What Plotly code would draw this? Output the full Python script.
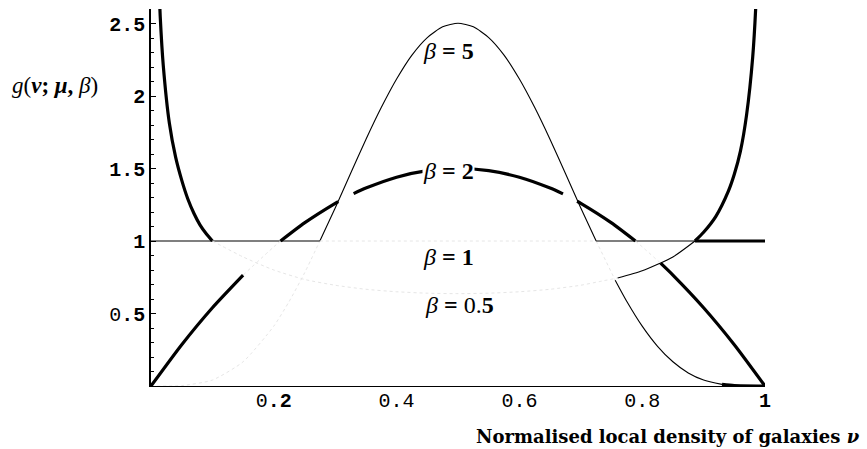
import plotly.graph_objects as go

# Density g(nu; mu, beta) for mu = 0.5 and four values of beta
nu_b05 = [0.005, 0.01, 0.015, 0.02, 0.03, 0.04, 0.05, 0.06, 0.07, 0.08, 0.09, 0.10,
          0.15, 0.2, 0.25, 0.3, 0.35, 0.4, 0.45, 0.5, 0.55, 0.6, 0.65, 0.7, 0.73,
          0.76, 0.8, 0.85, 0.886, 0.9, 0.92, 0.94, 0.95, 0.96, 0.97, 0.98, 0.985,
          0.99, 0.995]
g_b05 = [4.40, 3.10, 2.55, 2.21, 1.81, 1.58, 1.42, 1.29, 1.19, 1.11, 1.05, 1.00,
         0.89, 0.80, 0.735, 0.695, 0.667, 0.65, 0.64, 0.637, 0.64, 0.65, 0.667, 0.695, 0.72,
         0.745, 0.795, 0.89, 1.00, 1.06, 1.17, 1.34, 1.46, 1.62, 1.87, 2.27, 2.62,
         3.20, 4.51]

nu_b1 = [0.0, 0.275, 0.725, 0.886, 1.0]
g_b1 = [1.0, 1.0, 1.0, 1.0, 1.0]

nu_b2 = [0.0, 0.05, 0.1, 0.15, 0.2, 0.211, 0.25, 0.3, 0.305, 0.33, 0.35, 0.4, 0.45,
         0.5, 0.55, 0.6, 0.65, 0.671, 0.694, 0.7, 0.75, 0.789, 0.8, 0.83, 0.85,
         0.9, 0.95, 1.0]
g_b2 = [0.0, 0.285, 0.54, 0.765, 0.96, 1.0, 1.125, 1.26, 1.272, 1.327, 1.365, 1.44, 1.485,
        1.5, 1.485, 1.44, 1.365, 1.325, 1.274, 1.26, 1.125, 1.0, 0.96, 0.847, 0.765,
        0.54, 0.285, 0.0]

nu_b5 = [0.0, 0.05, 0.1, 0.15, 0.2, 0.225, 0.25, 0.275, 0.3, 0.325, 0.35, 0.375, 0.4,
         0.425, 0.45, 0.475, 0.5, 0.525, 0.55, 0.575, 0.6, 0.625, 0.65, 0.675, 0.7,
         0.725, 0.756, 0.775, 0.8, 0.825, 0.85, 0.875, 0.9, 0.93, 0.95, 1.0]
g_b5 = [0.0, 0.003, 0.041, 0.167, 0.413, 0.583, 0.779, 1.0, 1.228, 1.466, 1.700, 1.920, 2.117,
        2.282, 2.403, 2.477, 2.502, 2.477, 2.403, 2.282, 2.117, 1.920, 1.700, 1.466, 1.228,
        1.0, 0.73, 0.583, 0.413, 0.274, 0.167, 0.090, 0.041, 0.011, 0.003, 0.0]

x_ticks = [0.2, 0.4, 0.6, 0.8, 1.0]
x_tick_text = ["0<b>.2</b>", "0.4", "0.6", "0.8", "<b>1</b>"]
y_ticks = [0.5, 1.0, 1.5, 2.0, 2.5]
y_tick_text = ["0<b>.5</b>", "<b>1</b>", "<b>1.5</b>", "<b>2</b>", "<b>2.5</b>"]

# Line styles used along each curve
STYLES = {
    "thick": dict(color="black", width=3.2),
    "thin": dict(color="black", width=1.1),
    "faint": dict(color="#e6e6e6", width=1, dash="dot"),
}

# (start, end, style) pieces of each curve
pieces_b05 = [(0.0, 0.10, "thick"), (0.10, 0.76, "faint"), (0.76, 0.886, "thin"), (0.886, 1.0, "thick")]
pieces_b1 = [(0.0, 0.275, "thin"), (0.275, 0.725, "faint"), (0.725, 0.886, "thin"), (0.886, 1.0, "thick")]
pieces_b2 = [(0.0, 0.15, "thick"), (0.15, 0.211, "faint"), (0.211, 0.305, "thick"),
             (0.33, 0.671, "thick"), (0.694, 0.789, "thick"), (0.789, 0.83, "faint"),
             (0.83, 1.0, "thick")]
pieces_b5 = [(0.0, 0.275, "faint"), (0.275, 0.725, "thin"), (0.725, 0.756, "faint"),
             (0.756, 0.93, "thin"), (0.93, 1.0, "thick")]

fig = go.Figure()


def add_curve(nu, g, pieces):
    for lo, hi, style in pieces:
        xs = [a for a, b in zip(nu, g) if lo - 1e-9 <= a <= hi + 1e-9]
        ys = [b for a, b in zip(nu, g) if lo - 1e-9 <= a <= hi + 1e-9]
        fig.add_trace(go.Scatter(
            x=xs, y=ys, mode="lines", line=dict(shape="spline", smoothing=0.6, **STYLES[style]),
            showlegend=False, hoverinfo="skip"))


add_curve(nu_b5, g_b5, pieces_b5)
add_curve(nu_b1, g_b1, pieces_b1)
add_curve(nu_b05, g_b05, pieces_b05)
add_curve(nu_b2, g_b2, pieces_b2)

label_font = dict(family="Liberation Serif", size=24, color="black")
labels = [
    (0.485, 2.31, "<i>β</i> <b>= 5</b>", None),
    (0.485, 1.48, "<i>β</i> <b>= 2</b>", "white"),
    (0.485, 0.89, "<i>β</i> <b>= 1</b>", None),
    (0.503, 0.56, "<i>β</i> <b>=</b> 0.<b>5</b>", None),
]
for lx, ly, txt, bg in labels:
    fig.add_annotation(x=lx, y=ly, text=txt, showarrow=False, font=label_font,
                       xanchor="center", yanchor="middle",
                       bgcolor=bg if bg else "rgba(0,0,0,0)", borderpad=0)

fig.add_annotation(xref="paper", yref="paper", x=-0.156, y=0.798,
                   text="<i>g</i>(<b><i>ν</i></b><b>;</b> <b><i>μ</i></b><b>,</b> <i>β</i>)",
                   showarrow=False, xanchor="center", yanchor="middle",
                   font=dict(family="Liberation Serif", size=23, color="black"))
fig.add_annotation(xref="paper", yref="paper", x=1.158, y=-0.135,
                   text="<b>Normalised local density of galaxies <i>ν</i></b>",
                   showarrow=False, xanchor="right", yanchor="middle",
                   font=dict(family="DejaVu Serif", size=18, color="black"))

tick_font = dict(family="Liberation Mono", size=20, color="black")
fig.update_layout(
    width=867, height=449,
    margin=dict(l=151, r=102, t=9, b=63),
    paper_bgcolor="white", plot_bgcolor="white",
    xaxis=dict(range=[0, 1], showline=True, linecolor="black", linewidth=1.3,
               showgrid=False, zeroline=False, tickvals=x_ticks, ticktext=x_tick_text,
               ticks="", tickfont=tick_font, ticklabelstandoff=-4),
    yaxis=dict(range=[0, 2.6], showline=True, linecolor="black", linewidth=1.5,
               showgrid=False, zeroline=False, tickvals=y_ticks, ticktext=y_tick_text,
               ticks="inside", ticklen=5, tickwidth=1.2, tickcolor="black",
               tickfont=tick_font,
               minor=dict(ticks="inside", ticklen=3, tickwidth=1, tickcolor="black",
                          tickvals=[round(0.1 * i, 1) for i in range(1, 26)])),
)

fig.write_html("out.html")
